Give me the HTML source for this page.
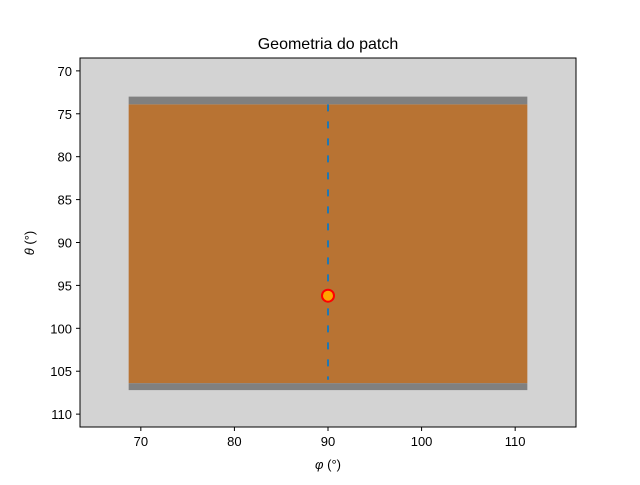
<!DOCTYPE html>
<html><head><meta charset="utf-8"><style>
body{margin:0;background:#fff;}
text{font-family:"Liberation Sans","DejaVu Sans",sans-serif;fill:#000;}
</style></head><body>
<svg id="chart" width="640" height="480">
<text x="328" y="49" text-anchor="middle" font-size="16">Geometria do patch</text>
<rect x="80" y="58" width="496" height="369" fill="#d3d3d3"/>
<g id="marks"></g>
<rect x="80" y="58" width="496" height="369" fill="none" stroke="#000" stroke-width="1"/>
<g id="axes"></g>
<text x="328" y="469" text-anchor="middle" font-size="13"><tspan font-style="italic">φ</tspan> (°)</text>
<text transform="translate(34,243) rotate(-90)" text-anchor="middle" font-size="13"><tspan font-style="italic">θ</tspan> (°)</text>
</svg>
<script>
const xTicks=[70,80,90,100,110];
const yTicks=[70,75,80,85,90,95,100,105,110];
const patchPhi=[68.7,111.3];
const patchTheta=[73.9,106.4];
const edgeTop=[73.0,73.9];
const edgeBottom=[106.4,107.2];
const centerPhi=[90];
const lineTheta=[73.9,106.0];
const feedPoint=[90,96.2];
const xs=v=>80+(v-63.5)*(496/53);
const ys=v=>58+(v-68.5)*(369/43);
const NS="http://www.w3.org/2000/svg";
const m=document.getElementById('marks'),ax=document.getElementById('axes');
function mk(tag,attrs,parent){const e=document.createElementNS(NS,tag);for(const k in attrs)e.setAttribute(k,attrs[k]);parent.appendChild(e);return e;}
let r=mk('rect',{x:xs(patchPhi[0]),y:ys(patchTheta[0]),width:xs(patchPhi[1])-xs(patchPhi[0]),height:ys(patchTheta[1])-ys(patchTheta[0]),fill:'#b87333'},m);


let g1=mk('rect',{x:xs(patchPhi[0]),y:ys(edgeTop[0]),width:xs(patchPhi[1])-xs(patchPhi[0]),height:ys(edgeTop[1])-ys(edgeTop[0]),fill:'#808080'},m);


let g2=mk('rect',{x:xs(patchPhi[0]),y:ys(edgeBottom[0]),width:xs(patchPhi[1])-xs(patchPhi[0]),height:ys(edgeBottom[1])-ys(edgeBottom[0]),fill:'#808080'},m);


let l=mk('line',{x1:xs(centerPhi[0]),x2:xs(centerPhi[0]),y1:ys(lineTheta[0]),y2:ys(lineTheta[1]),stroke:'#1f77b4','stroke-width':2,'stroke-dasharray':'7 10'},m);


let c=mk('circle',{cx:xs(feedPoint[0]),cy:ys(feedPoint[1]),r:6,fill:'#ffa500',stroke:'#ff0000','stroke-width':2},m);


xTicks.forEach(v=>{const x=xs(v);
mk('line',{x1:x,x2:x,y1:427,y2:431,stroke:'#000'},ax);
const t=mk('text',{x:x,y:446,'text-anchor':'middle','font-size':13},ax);t.textContent=v;

});
yTicks.forEach(v=>{const y=ys(v);
mk('line',{x1:76,x2:80,y1:y,y2:y,stroke:'#000'},ax);
const t=mk('text',{x:72,y:y+5,'text-anchor':'end','font-size':13},ax);t.textContent=v;

});
</script>
</body></html>
